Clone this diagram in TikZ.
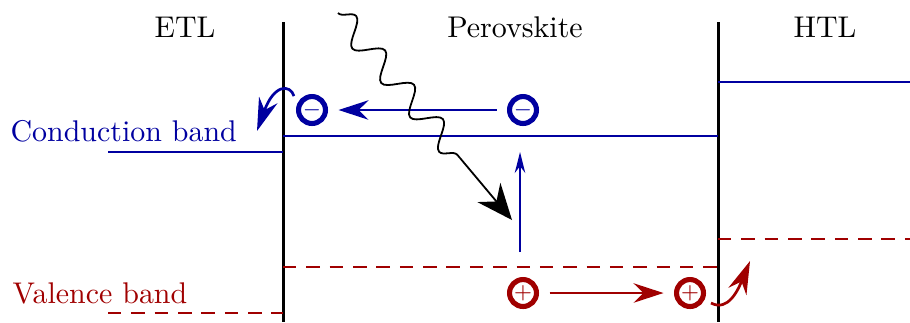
\documentclass[tikz,border=0pt]{standalone}
\usetikzlibrary{arrows.meta,decorations.pathmorphing}
\definecolor{cb}{RGB}{0,0,160}
\definecolor{vb}{RGB}{160,0,0}
\begin{document}
\begin{tikzpicture}[x=0.334pt,y=-0.334pt,
  wall/.style={line width=1pt,black},
  cband/.style={line width=0.95pt,cb},
  vband/.style={line width=0.95pt,vb,dash pattern=on 4.5pt off 3.3pt},
  elec/.style={circle,draw=cb,line width=1.7pt,minimum size=9pt,inner sep=0pt,text=cb,font=\scriptsize},
  hole/.style={circle,draw=vb,line width=1.7pt,minimum size=9pt,inner sep=0pt,text=vb,font=\scriptsize},
  bigtip/.style={-{Stealth[length=10pt,width=6.5pt]}},
  lbl/.style={font=\normalsize}
]
\useasboundingbox (0,0) rectangle (910,322);
% walls
\draw[wall] (283,22) -- (283,322);
\draw[wall] (718,22) -- (718,322);
% region labels
\node[lbl] (etl) at (185,27) {ETL};
\node[lbl] (pero) at (515,27) {Perovskite};
\node[lbl] (htl) at (825,27) {HTL};
% conduction bands
\draw[cband] (108,152) -- (283,152);
\draw[cband] (283,136) -- (718,136);
\draw[cband] (718,82) -- (910,82);
% valence bands
\draw[vband] (108,313) -- (283,313);
\draw[vband] (283,267) -- (718,267);
\draw[vband] (718,239) -- (910,239);
% band labels
\node[lbl,text=cb,anchor=west,inner sep=0pt] (cbl) at (10,131) {Conduction band};
\node[lbl,text=vb,anchor=west,inner sep=0pt] (vbl) at (12,293) {Valence band};
% carriers
\node[elec] (e1) at (312,110) {$-$};
\node[elec] (e2) at (523,110) {$-$};
\node[hole] (h1) at (523,293) {$+$};
\node[hole] (h2) at (690,293) {$+$};
% transport arrows
\draw[cb,line width=0.6pt,bigtip,shorten >=3.5pt,shorten <=3.5pt] (e2) -- (e1);
\draw[vb,line width=0.6pt,bigtip,shorten >=3.5pt,shorten <=3.5pt] (h1) -- (h2);
\coordinate (exb) at (520,252);
\coordinate (ext) at (520,152);
\draw[cb,line width=0.6pt,-{Stealth[length=7pt,width=3.5pt]}] (exb) -- (ext);
% extraction arrows
\coordinate (eout) at (257,131);
\coordinate (ein) at (294,96);
\draw[cb,line width=0.9pt,-{Stealth[length=11pt,width=6.5pt]}] (ein) .. controls (290,84) and (274,84) .. (eout);
\coordinate (hin) at (711,303);
\coordinate (hout) at (750,261);
\draw[vb,line width=0.9pt,-{Stealth[length=11pt,width=6.5pt]}] (hin) .. controls (728,312) and (738,290) .. (hout);
% photon
\coordinate (ph0) at (338,13);
\coordinate (ph1) at (460,158);
\coordinate (ph2) at (512,220);
\draw[line width=0.6pt,decorate,decoration={snake,segment length=15pt,amplitude=4pt}] (ph0) -- (ph1);
\draw[line width=0.6pt,-{Stealth[length=12pt,width=10pt]}] (ph1) -- (ph2);
\end{tikzpicture}
\end{document}
